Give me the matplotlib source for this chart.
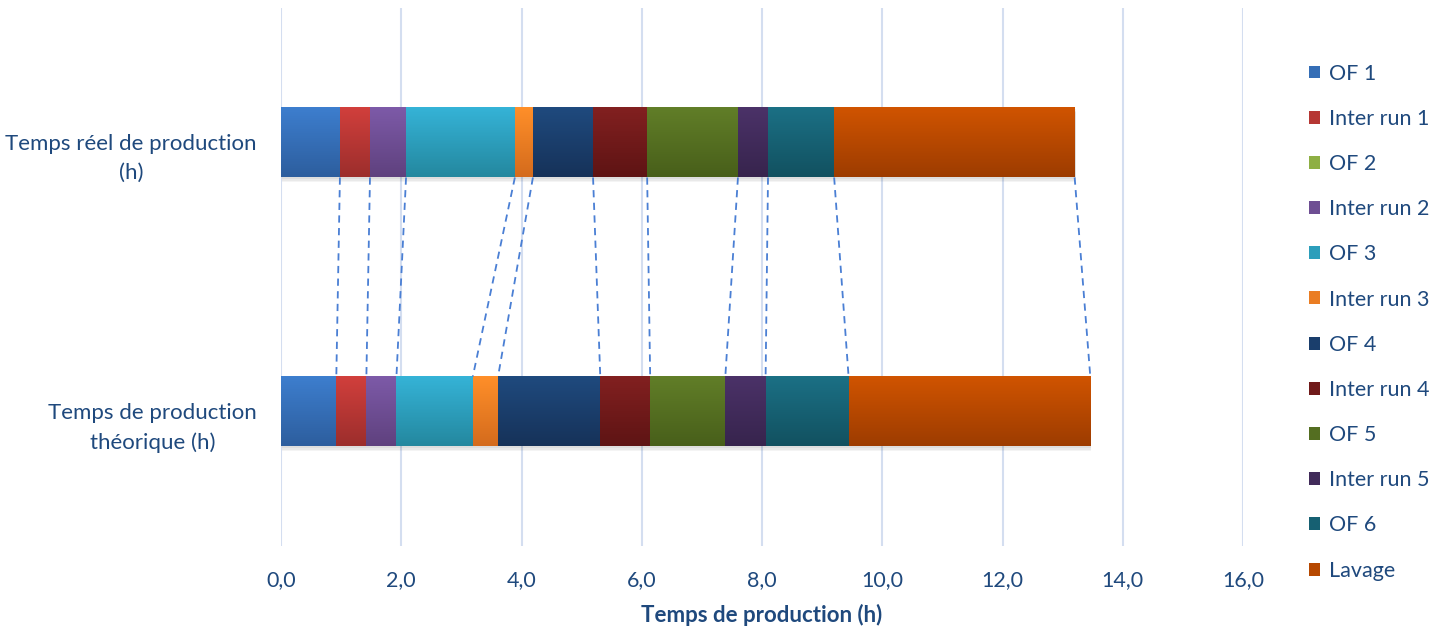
#!python
# -*- coding: utf-8 -*-
"""
Temps de production : réel vs théorique, barres empilées par OF / inter run.
"""
import numpy as np
import matplotlib.pyplot as plt
import matplotlib.colors as mcolors
from matplotlib.patches import Patch
from matplotlib.ticker import FuncFormatter

# Data (hours)
steps = ['OF 1', 'Inter run 1', 'OF 2', 'Inter run 2', 'OF 3', 'Inter run 3',
         'OF 4', 'Inter run 4', 'OF 5', 'Inter run 5', 'OF 6', 'Lavage']
categories = ['Temps de production\nthéorique (h)', 'Temps réel de production\n(h)']
theorique = [0.92, 0.50, 0.0, 0.50, 1.27, 0.42, 1.70, 0.83, 1.25, 0.67, 1.38, 4.02]
reel      = [0.98, 0.50, 0.0, 0.60, 1.81, 0.30, 1.00, 0.90, 1.51, 0.50, 1.10, 4.00]
xticks = np.arange(0, 17, 2)

# gradient colours (top, bottom) like the Excel fill
grad = [('#3D7ECE', '#2D5E9E'), ('#D13F3C', '#9C2E2C'), ('#A2C650', '#7A9838'),
        ('#7D5AA8', '#5F417E'), ('#35B3D7', '#24889F'), ('#FF8F29', '#D46B1D'),
        ('#1F4A7E', '#163259'), ('#822020', '#5E1414'), ('#617E28', '#485F1A'),
        ('#4B3268', '#37244D'), ('#1B7085', '#125160'), ('#D05400', '#9D3C00')]

def mid(g):
    return mcolors.to_hex(np.mean([mcolors.to_rgb(c) for c in g], axis=0))

text_col = '#1F497D'
fs = 15.5
plt.rcParams['font.family'] = ['Lato', 'DejaVu Sans']

fig = plt.figure(figsize=(14.49, 6.27), dpi=100)
ax = fig.add_axes([281/1449, 1 - 546/627, (1243 - 281)/1449, 538/627])

h = 0.26
ypos = [0, 1]
data = [theorique, reel]

for y, vals in zip(ypos, data):
    lefts = np.concatenate([[0], np.cumsum(vals)[:-1]])
    total = np.sum(vals)
    # soft shadow under the bar
    for k in [0.006, 0.012, 0.018]:
        ax.barh(y - k, total, height=h, left=0.02, color='black', alpha=0.045,
                linewidth=0, zorder=1)
    bars = ax.barh(y, vals, height=h, left=lefts, color=[mid(g) for g in grad],
                   linewidth=0, zorder=2)
    for b, (ct, cb) in zip(bars, grad):
        if b.get_width() <= 0:
            continue
        t = np.linspace(0, 1, 64)[:, None]
        img = (1 - t) * np.array(mcolors.to_rgb(ct)) + t * np.array(mcolors.to_rgb(cb))
        x0, y0 = b.get_x(), b.get_y()
        ax.imshow(img[:, None, :], extent=(x0, x0 + b.get_width(), y0, y0 + b.get_height()),
                  origin='upper', aspect='auto', zorder=3, interpolation='bilinear')

# series lines between the two bars
end_t = np.cumsum(theorique)
end_r = np.cumsum(reel)
for i in range(len(steps)):
    if steps[i] == 'OF 2':
        continue
    ax.plot([end_r[i], end_t[i]], [1 - h/2, 0 + h/2], ls=(0, (4, 3)), color='#4A7FD4',
            lw=1.3, zorder=4)

ax.set_xlim(0, 16)
ax.set_ylim(-0.5, 1.5)
ax.set_xticks(xticks)
ax.xaxis.set_major_formatter(FuncFormatter(lambda v, p: '{:.1f}'.format(v).replace('.', ',')))
ax.grid(axis='x', color='#D4DEF0', lw=1.5, zorder=0)
ax.set_axisbelow(True)
for s in ax.spines.values():
    s.set_visible(False)
ax.tick_params(axis='x', length=0, labelsize=fs, labelcolor=text_col, pad=17.5)
ax.set_yticks([])

# category labels, first line aligned with bar centre
for y, lab in zip(ypos, categories):
    ax.text(-24/60.1, y + 0.032, lab, ha='right', va='top', multialignment='center',
            fontsize=16, color=text_col, linespacing=1.55, zorder=5)

ax.set_xlabel('Temps de production (h)', fontsize=16, fontweight='bold',
              color=text_col, labelpad=10)

handles = [Patch(facecolor=mid(g), edgecolor='none', label=s) for s, g in zip(steps, grad)]
fig.legend(handles=handles, loc='upper left', bbox_to_anchor=(1300/1449, 1 - 55/627),
           frameon=False, fontsize=fs, labelcolor=text_col, handlelength=0.55,
           handleheight=0.55, handletextpad=0.4, labelspacing=1.17, borderaxespad=0)

plt.savefig('out.png', dpi=100)
